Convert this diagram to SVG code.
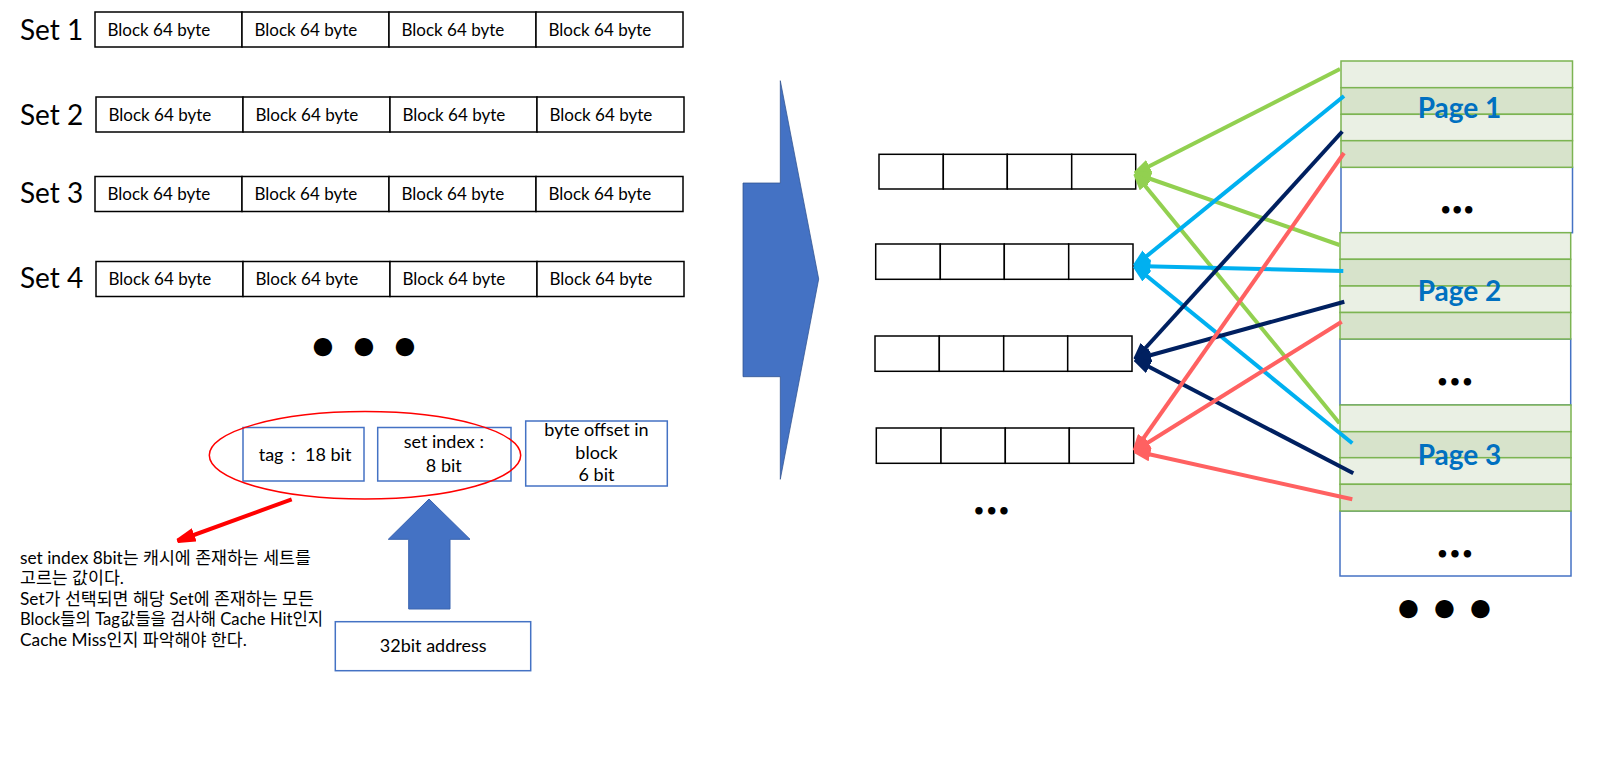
<svg xmlns="http://www.w3.org/2000/svg" width="1600" height="760" viewBox="0 0 1600 760">
<style>
  .cell { fill: #fff; stroke: #000; stroke-width: 1.5; }
  .setlbl { font-family: Lato, "Liberation Sans", sans-serif; font-size: 28px; fill: #000; }
  .blk { font-family: Lato, "Liberation Sans", sans-serif; font-size: 17px; fill: #000; }
  .abox { fill: #fff; stroke: #4472C4; stroke-width: 1.5; }
  .atxt { font-family: Lato, "Liberation Sans", sans-serif; font-size: 18px; fill: #000; text-anchor: middle; }
  .ltxt { font-family: Lato, "Liberation Sans", sans-serif; font-size: 18px; fill: #000; }
  .kr { font-family: Lato, "Noto Sans CJK KR", sans-serif; font-size: 17.3px; fill: #000; }
  .sl { stroke: #7CB452; stroke-width: 1.5; }
  .sl1 { fill: #EAF0E4; }
  .sl2 { fill: #D7E3CB; }
  .wbox { fill: #fff; stroke: #4472C4; stroke-width: 1.5; }
  .plbl { font-family: Lato, "Liberation Sans", sans-serif; font-size: 28px; font-weight: bold; fill: #0070C0; text-anchor: middle; }
  .dots { font-family: Lato, "Liberation Sans", sans-serif; font-weight: bold; fill: #000; text-anchor: middle; }
  .ln { stroke-width: 4; fill: none; }
</style>
<defs>
  <marker id="mg" viewBox="0 0 16 14" markerWidth="16" markerHeight="14" refX="16" refY="7" orient="auto" markerUnits="userSpaceOnUse"><path d="M0,0 L16,5 L16,9 L0,14 Z" fill="#92D050"/></marker>
  <marker id="mc" viewBox="0 0 16 14" markerWidth="16" markerHeight="14" refX="16" refY="7" orient="auto" markerUnits="userSpaceOnUse"><path d="M0,0 L16,5 L16,9 L0,14 Z" fill="#00B0F0"/></marker>
  <marker id="mn" viewBox="0 0 16 14" markerWidth="16" markerHeight="14" refX="16" refY="7" orient="auto" markerUnits="userSpaceOnUse"><path d="M0,0 L16,5 L16,9 L0,14 Z" fill="#002060"/></marker>
  <marker id="mr" viewBox="0 0 16 14" markerWidth="16" markerHeight="14" refX="16" refY="7" orient="auto" markerUnits="userSpaceOnUse"><path d="M0,0 L16,5 L16,9 L0,14 Z" fill="#FF6161"/></marker>
  <marker id="mred" viewBox="0 0 18 14" markerWidth="18" markerHeight="14" refX="18" refY="7" orient="auto" markerUnits="userSpaceOnUse"><path d="M0,0 L18,5 L18,9 L0,14 Z" fill="#FF0000"/></marker>
</defs>

<!-- Set rows -->
<g id="set1">
  <text class="setlbl" x="20" y="40">Set 1</text>
  <rect class="cell" x="95" y="12" width="147" height="35"/><rect class="cell" x="242" y="12" width="147" height="35"/><rect class="cell" x="389" y="12" width="147" height="35"/><rect class="cell" x="536" y="12" width="147" height="35"/>
  <text class="blk" x="107.5" y="35.5">Block 64 byte</text><text class="blk" x="254.5" y="35.5">Block 64 byte</text><text class="blk" x="401.5" y="35.5">Block 64 byte</text><text class="blk" x="548.5" y="35.5">Block 64 byte</text>
</g>
<g id="set2">
  <text class="setlbl" x="20" y="125">Set 2</text>
  <rect class="cell" x="96" y="97" width="147" height="35"/><rect class="cell" x="243" y="97" width="147" height="35"/><rect class="cell" x="390" y="97" width="147" height="35"/><rect class="cell" x="537" y="97" width="147" height="35"/>
  <text class="blk" x="108.5" y="120.5">Block 64 byte</text><text class="blk" x="255.5" y="120.5">Block 64 byte</text><text class="blk" x="402.5" y="120.5">Block 64 byte</text><text class="blk" x="549.5" y="120.5">Block 64 byte</text>
</g>
<g id="set3">
  <text class="setlbl" x="20" y="203">Set 3</text>
  <rect class="cell" x="95" y="176.5" width="147" height="35"/><rect class="cell" x="242" y="176.5" width="147" height="35"/><rect class="cell" x="389" y="176.5" width="147" height="35"/><rect class="cell" x="536" y="176.5" width="147" height="35"/>
  <text class="blk" x="107.5" y="200">Block 64 byte</text><text class="blk" x="254.5" y="200">Block 64 byte</text><text class="blk" x="401.5" y="200">Block 64 byte</text><text class="blk" x="548.5" y="200">Block 64 byte</text>
</g>
<g id="set4">
  <text class="setlbl" x="20" y="288">Set 4</text>
  <rect class="cell" x="96" y="261.5" width="147" height="35"/><rect class="cell" x="243" y="261.5" width="147" height="35"/><rect class="cell" x="390" y="261.5" width="147" height="35"/><rect class="cell" x="537" y="261.5" width="147" height="35"/>
  <text class="blk" x="108.5" y="285">Block 64 byte</text><text class="blk" x="255.5" y="285">Block 64 byte</text><text class="blk" x="402.5" y="285">Block 64 byte</text><text class="blk" x="549.5" y="285">Block 64 byte</text>
</g>
<g id="set-dots">
  <text class="dots" font-size="42" x="323 364 405" y="359.5">•••</text>
</g>

<!-- Address fields -->
<g id="tag">
  <rect class="abox" x="243" y="427.5" width="121" height="53.5"/>
  <text class="ltxt" x="258.7" y="461">tag <tspan x="291">:</tspan> <tspan x="305">18 bit</tspan></text>
</g>
<g id="setindex">
  <rect class="abox" x="377.7" y="427.5" width="133.3" height="53.5"/>
  <text class="atxt" x="443.8" y="448.3">set index :</text>
  <text class="atxt" x="443.8" y="471.7">8 bit</text>
</g>
<g id="offset">
  <rect class="abox" x="525.7" y="421" width="141.6" height="65"/>
  <text class="atxt" x="596.5" y="436">byte offset in</text>
  <text class="atxt" x="596.5" y="459">block</text>
  <text class="atxt" x="596.5" y="481">6 bit</text>
</g>
<g id="highlight">
  <ellipse cx="365" cy="455.3" rx="155.7" ry="43.7" fill="none" stroke="#FF0000" stroke-width="1.5"/>
</g>
<g id="address">
  <rect class="abox" x="335.3" y="621.7" width="195.4" height="49"/>
  <text class="atxt" x="433.2" y="651.7">32bit address</text>
</g>
<g id="up-arrow">
  <polygon points="429,499 470,539.3 450,539.3 450,609 408.7,609 408.7,539.3 388.3,539.3" fill="#4472C4" stroke="#3A64B0" stroke-width="1"/>
</g>
<g id="note">
  <text class="kr" x="20" y="563.5">set index 8bit는 캐시에 존재하는 세트를</text>
  <text class="kr" x="20" y="584">고르는 값이다.</text>
  <text class="kr" x="20" y="604.5">Set가 선택되면 해당 Set에 존재하는 모든</text>
  <text class="kr" x="20" y="625" textLength="303" lengthAdjust="spacingAndGlyphs">Block들의 Tag값들을 검사해 Cache Hit인지</text>
  <text class="kr" x="20" y="645.5">Cache Miss인지 파악해야 한다.</text>
</g>

<!-- Big right arrow -->
<g id="big-arrow">
  <polygon points="743,183 780.3,183 780.3,80.7 818.7,279 780.3,479.3 780.3,376.7 743,376.7" fill="#4472C4" stroke="#2F528F" stroke-width="0.75"/>
</g>

<!-- Cache rows -->
<g id="row1">
  <rect class="cell" x="879" y="154.3" width="64.3" height="34.7"/><rect class="cell" x="943.3" y="154.3" width="64" height="34.7"/><rect class="cell" x="1007.3" y="154.3" width="64.4" height="34.7"/><rect class="cell" x="1071.7" y="154.3" width="64" height="34.7"/>
</g>
<g id="row2">
  <rect class="cell" x="875.7" y="244" width="64.6" height="35.3"/><rect class="cell" x="940.3" y="244" width="64" height="35.3"/><rect class="cell" x="1004.3" y="244" width="64.4" height="35.3"/><rect class="cell" x="1068.7" y="244" width="64.3" height="35.3"/>
</g>
<g id="row3">
  <rect class="cell" x="875" y="336" width="64.3" height="35.3"/><rect class="cell" x="939.3" y="336" width="64.4" height="35.3"/><rect class="cell" x="1003.7" y="336" width="64" height="35.3"/><rect class="cell" x="1067.7" y="336" width="64.3" height="35.3"/>
</g>
<g id="row4">
  <rect class="cell" x="876.3" y="428" width="64.7" height="35.3"/><rect class="cell" x="941" y="428" width="64.3" height="35.3"/><rect class="cell" x="1005.3" y="428" width="64" height="35.3"/><rect class="cell" x="1069.3" y="428" width="64.4" height="35.3"/>
</g>
<g id="row-dots">
  <text class="dots" font-size="17" x="979 991.7 1004" y="516">•••</text>
</g>

<!-- Pages -->
<g id="page1">
  <rect class="wbox" x="1341" y="167.3" width="231.5" height="65.4"/>
  <rect class="sl sl1" x="1341" y="61" width="231.5" height="26.7"/>
  <rect class="sl sl2" x="1341" y="87.7" width="231.5" height="26.6"/>
  <rect class="sl sl1" x="1341" y="114.3" width="231.5" height="26.4"/>
  <rect class="sl sl2" x="1341" y="140.7" width="231.5" height="26.6"/>
  <text class="plbl" x="1459.5" y="118">Page 1</text>
  <text class="dots" font-size="17" x="1445.8 1457.2 1468.8" y="215">•••</text>
</g>
<g id="page2">
  <rect class="wbox" x="1340" y="339" width="230.7" height="66"/>
  <rect class="sl sl1" x="1340" y="232.7" width="230.7" height="26.6"/>
  <rect class="sl sl2" x="1340" y="259.3" width="230.7" height="26.7"/>
  <rect class="sl sl1" x="1340" y="286" width="230.7" height="26.5"/>
  <rect class="sl sl2" x="1340" y="312.5" width="230.7" height="26.5"/>
  <text class="plbl" x="1459.5" y="300.7">Page 2</text>
  <text class="dots" font-size="17" x="1442.5 1455 1467.5" y="386.7">•••</text>
</g>
<g id="page3">
  <rect class="wbox" x="1340" y="511" width="231" height="65"/>
  <rect class="sl sl1" x="1340" y="405" width="231" height="26.7"/>
  <rect class="sl sl2" x="1340" y="431.7" width="231" height="26"/>
  <rect class="sl sl1" x="1340" y="457.7" width="231" height="26.6"/>
  <rect class="sl sl2" x="1340" y="484.3" width="231" height="26.7"/>
  <text class="plbl" x="1459.5" y="465">Page 3</text>
  <text class="dots" font-size="17" x="1442.5 1455 1467.5" y="559">•••</text>
</g>
<g id="page-dots">
  <text class="dots" font-size="42" x="1408.5 1444.5 1480.5" y="621.5">•••</text>
</g>

<!-- Connectors -->
<g id="connectors">
  <line class="ln" x1="291.7" y1="499.3" x2="177.3" y2="541" stroke="#FF0000" marker-end="url(#mred)"/>
  <line class="ln" x1="1340" y1="69" x2="1135" y2="173.5" stroke="#92D050" marker-end="url(#mg)"/>
  <line class="ln" x1="1339.5" y1="245" x2="1135" y2="173.5" stroke="#92D050" marker-end="url(#mg)"/>
  <line class="ln" x1="1339.5" y1="423.3" x2="1135" y2="173.5" stroke="#92D050" marker-end="url(#mg)"/>
  <line class="ln" x1="1344" y1="96" x2="1134.5" y2="266" stroke="#00B0F0" marker-end="url(#mc)"/>
  <line class="ln" x1="1343.3" y1="271" x2="1134.5" y2="266" stroke="#00B0F0" marker-end="url(#mc)"/>
  <line class="ln" x1="1352.3" y1="443.3" x2="1134.5" y2="266" stroke="#00B0F0" marker-end="url(#mc)"/>
  <line class="ln" x1="1342.3" y1="131.5" x2="1135" y2="359.5" stroke="#002060" marker-end="url(#mn)"/>
  <line class="ln" x1="1344.3" y1="301.7" x2="1135" y2="359.5" stroke="#002060" marker-end="url(#mn)"/>
  <line class="ln" x1="1353.3" y1="473.3" x2="1135" y2="359.5" stroke="#002060" marker-end="url(#mn)"/>
  <line class="ln" x1="1344" y1="153" x2="1134.5" y2="451" stroke="#FF6161" marker-end="url(#mr)"/>
  <line class="ln" x1="1341.7" y1="321.7" x2="1134.5" y2="451" stroke="#FF6161" marker-end="url(#mr)"/>
  <line class="ln" x1="1352.3" y1="499.3" x2="1134.5" y2="451" stroke="#FF6161" marker-end="url(#mr)"/>
</g>
</svg>
